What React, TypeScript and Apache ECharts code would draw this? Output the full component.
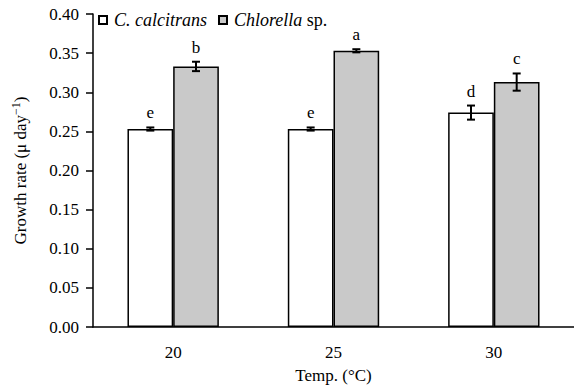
import React, { useEffect, useRef } from "react";
import * as echarts from "echarts";

const categories = ["20", "25", "30"];
const calcitrans = [0.253, 0.253, 0.274];
const chlorella = [0.333, 0.353, 0.313];
const calcitransErr = [0.002, 0.002, 0.009];
const chlorellaErr = [0.006, 0.002, 0.011];
const calcitransLetters = ["e", "e", "d"];
const chlorellaLetters = ["b", "a", "c"];
const yTicks = [0, 0.05, 0.1, 0.15, 0.2, 0.25, 0.3, 0.35, 0.4];

const FONT = '"Liberation Serif", "Times New Roman", serif';
const BAR_FRAC = 0.285;

function makeErr(name: string, vals: number[], errs: number[], letters: string[], side: number) {
  return {
    name,
    type: "custom",
    z: 10,
    encode: { x: 0, y: 1 },
    data: vals.map((v, i) => [i, v, errs[i]]),
    renderItem: (params: any, api: any) => {
      const i = api.value(0);
      const v = api.value(1);
      const e = api.value(2);
      const catW = api.size([1, 0])[0];
      const bw = catW * BAR_FRAC;
      const cx = api.coord([i, v])[0] + (side * bw) / 2;
      const yTop = api.coord([i, v + e])[1];
      const yBot = api.coord([i, v - e])[1];
      const cap = 4;
      const style = { stroke: "#000", lineWidth: 2 };
      return {
        type: "group",
        children: [
          { type: "line", shape: { x1: cx, y1: yTop, x2: cx, y2: yBot }, style },
          { type: "line", shape: { x1: cx - cap, y1: yTop, x2: cx + cap, y2: yTop }, style },
          { type: "line", shape: { x1: cx - cap, y1: yBot, x2: cx + cap, y2: yBot }, style },
          {
            type: "text",
            x: cx,
            y: yTop - 6,
            style: {
              text: letters[params.dataIndex],
              textAlign: "center",
              textVerticalAlign: "bottom",
              font: `17px ${FONT}`,
              fill: "#000",
            },
          },
        ],
      };
    },
  };
}

export default function App() {
  const ref = useRef<HTMLDivElement>(null);
  useEffect(() => {
    if (!ref.current) return;
    const chart = echarts.init(ref.current, null, { renderer: "svg" });
    chart.setOption({
      animation: false,
      backgroundColor: "#fff",
      textStyle: { fontFamily: FONT, color: "#000" },
      grid: { left: 93, width: 492, top: 14, bottom: 62 },
      legend: {
        left: 93,
        top: 6,
        icon: "rect",
        itemWidth: 8,
        itemHeight: 8,
        itemGap: 11,
        data: ["C. calcitrans", "Chlorella sp."],
        formatter: (n: string) =>
          n === "C. calcitrans" ? "{i|C. calcitrans}" : "{i|Chlorella}{n| sp.}",
        textStyle: {
          fontFamily: FONT,
          color: "#000",
          padding: [0, 0, 0, 2],
          rich: {
            i: { fontFamily: FONT, fontStyle: "italic", fontSize: 18, color: "#000" },
            n: { fontFamily: FONT, fontSize: 18, color: "#000" },
          },
        },
      },
      xAxis: {
        type: "category",
        data: categories,
        name: "Temp. (°C)",
        nameLocation: "middle",
        nameGap: 40,
        nameTextStyle: { fontFamily: FONT, fontSize: 17, color: "#000" },
        axisLine: { show: true, lineStyle: { color: "#000", width: 1.5 } },
        axisTick: { show: false },
        axisLabel: { margin: 17, fontFamily: FONT, fontSize: 17, color: "#000" },
      },
      yAxis: {
        type: "value",
        min: yTicks[0],
        max: yTicks[yTicks.length - 1],
        interval: 0.05,
        name: "{n|Growth rate (μ day}{s|−1}{n|)}",
        nameLocation: "middle",
        nameGap: 63,
        nameTextStyle: {
          rich: {
            n: { fontFamily: FONT, fontSize: 17, color: "#000", lineHeight: 20 },
            s: { fontFamily: FONT, fontSize: 12, color: "#000", verticalAlign: "top", lineHeight: 20 },
          },
        },
        axisLine: { show: true, lineStyle: { color: "#000", width: 1.5 } },
        axisTick: { show: true, length: 7, lineStyle: { color: "#000", width: 1.5 } },
        splitLine: { show: false },
        axisLabel: {
          margin: 14,
          fontFamily: FONT,
          fontSize: 17,
          color: "#000",
          formatter: (v: number) => v.toFixed(2),
        },
      },
      series: [
        {
          name: "C. calcitrans",
          type: "bar",
          data: calcitrans,
          barWidth: `${BAR_FRAC * 100}%`,
          barGap: "0%",
          itemStyle: { color: "#ffffff", borderColor: "#000", borderWidth: 1.5 },
        },
        {
          name: "Chlorella sp.",
          type: "bar",
          data: chlorella,
          barWidth: `${BAR_FRAC * 100}%`,
          barGap: "0%",
          itemStyle: { color: "#c9c9c9", borderColor: "#000", borderWidth: 1.5 },
        },
        makeErr("errA", calcitrans, calcitransErr, calcitransLetters, -1),
        makeErr("errB", chlorella, chlorellaErr, chlorellaLetters, 1),
      ],
    });
    return () => chart.dispose();
  }, []);
  return (
    <div
      ref={ref}
      style={{ position: "fixed", left: 0, top: 0, width: 574, height: 389 }}
    />
  );
}
